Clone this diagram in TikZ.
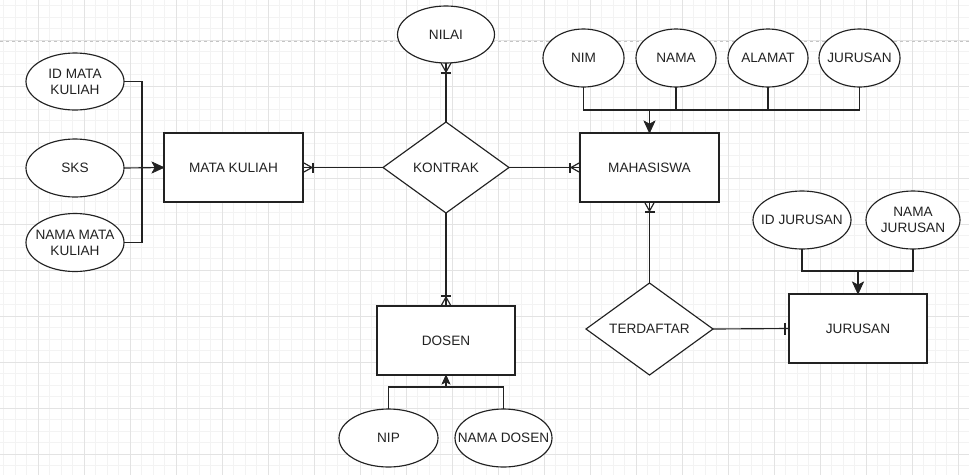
\documentclass[tikz,border=0pt]{standalone}
\usepackage{fontspec}
\setmainfont{Liberation Sans}
\usetikzlibrary{shapes.geometric}
\definecolor{gmin}{HTML}{F3F3F3}
\definecolor{gmaj}{HTML}{E3E3E3}
\definecolor{pgline}{HTML}{C4C4C4}
\definecolor{ink}{HTML}{222222}
\begin{document}
\begin{tikzpicture}[x=1pt,y=-1pt,
  every node/.style={font=\fontsize{13.6}{16}\selectfont, text=ink},
  ent/.style={draw=ink, fill=white, line width=1.15pt, rectangle, minimum width=139pt, minimum height=69pt, inner sep=0pt, outer sep=0pt},
  attr/.style={draw=ink, fill=white, line width=1.15pt, ellipse, inner sep=0pt, outer sep=0pt, minimum height=58pt},
  rel/.style={draw=ink, fill=white, line width=1.15pt, diamond, inner sep=0pt, outer sep=0pt},
  lbl/.style={align=center},
  conn/.style={draw=ink, line width=1.15pt},
  crow/.pic={\draw[conn] (0pt,5pt) -- (9pt,0pt) -- (0pt,-5pt); \draw[conn] (10pt,5pt) -- (10pt,-5pt);},
  onebar/.pic={\draw[conn] (4pt,6pt) -- (4pt,-6pt);},
  headbig/.pic={\filldraw[ink, line width=0.6pt, line join=miter] (0pt,0pt) -- (-12pt,5.5pt) -- (-9pt,0pt) -- (-12pt,-5.5pt) -- cycle;},
  headsmall/.pic={\filldraw[ink, line width=0.6pt, line join=miter] (0pt,0pt) -- (-9pt,4pt) -- (-7pt,0pt) -- (-9pt,-4pt) -- cycle;}
]
\useasboundingbox (0,0) rectangle (969,475);
\fill[white] (0,0) rectangle (969,475);
% grid
\begin{scope}
\clip (0,0) rectangle (969,475);
\foreach \i in {0,...,84} \draw[gmin, line width=0.8pt] ({3.5+11.5*\i},0) -- ({3.5+11.5*\i},475);
\foreach \i in {0,...,41} \draw[gmin, line width=0.8pt] (0,{5.5+11.5*\i}) -- (969,{5.5+11.5*\i});
\foreach \i in {0,...,21} \draw[gmaj, line width=0.8pt] ({-8+46*\i},0) -- ({-8+46*\i},475);
\foreach \i in {0,...,11} \draw[gmaj, line width=0.8pt] (0,{-6+46*\i}) -- (969,{-6+46*\i});
\end{scope}
\draw[pgline, dash pattern=on 3pt off 3pt, line width=0.8pt] (0,41) -- (969,41);

% entities
\node[ent] (mk) at (233.5,167.5) {MATA KULIAH};
\node[ent] (mhs) at (649.5,167.5) {MAHASISWA};
\node[ent, minimum width=138pt] (jur) at (858,328.5) {JURUSAN};
\node[ent, minimum width=138pt] (dos) at (446,340.5) {DOSEN};

% relationships
\node[rel, minimum width=126pt, minimum height=91pt, label={[lbl]center:KONTRAK}] (kontrak) at (446,167.5) {};
\node[rel, minimum width=127pt, minimum height=92pt, label={[lbl]center:TERDAFTAR}] (terd) at (649.5,329) {};

% attributes
\node[attr, minimum width=98pt, minimum height=57pt, label={[lbl]center:ID MATA\\KULIAH}] (idmk) at (75,81.5) {};
\node[attr, minimum width=98pt, label={[lbl]center:SKS}] (sks) at (75,168) {};
\node[attr, minimum width=98pt, label={[lbl]center:NAMA MATA\\KULIAH}] (nmk) at (75,242.5) {};
\node[attr, minimum width=97pt, minimum height=57pt, label={[lbl]center:NILAI}] (nilai) at (446,34.5) {};
\node[attr, minimum width=81pt, label={[lbl]center:NIM}] (nim) at (583.5,58) {};
\node[attr, minimum width=80pt, label={[lbl]center:NAMA}] (nama) at (676,58) {};
\node[attr, minimum width=80pt, label={[lbl]center:ALAMAT}] (alamat) at (768,58) {};
\node[attr, minimum width=81pt, label={[lbl]center:JURUSAN}] (jura) at (859.5,58) {};
\node[attr, minimum width=98pt, label={[lbl]center:ID JURUSAN}] (idj) at (802,220) {};
\node[attr, minimum width=94pt, label={[lbl]center:NAMA\\JURUSAN}] (nj) at (913,220) {};
\node[attr, minimum width=99pt, label={[lbl]center:NIP}] (nip) at (388.5,438) {};
\node[attr, minimum width=97pt, label={[lbl]center:NAMA DOSEN}] (nd) at (503.5,438) {};

% attribute connectors
\coordinate (lbus) at (142,168);
\draw[conn] (idmk.east) -| (lbus) |- (nmk.east);
\draw[conn] (sks.east) -- (mk.west);
\pic at (mk.west) {headbig};

\coordinate (mbus) at (649.5,110);
\draw[conn] (nim.south) |- (mbus);
\draw[conn] (nama.south) |- (mbus);
\draw[conn] (alamat.south) |- (mbus);
\draw[conn] (jura.south) |- (mbus);
\draw[conn] (mbus) -- (mhs.north);
\pic[rotate=-90] at (mhs.north) {headbig};

\coordinate (jbus) at (858,271);
\draw[conn] (idj.south) |- (jbus);
\draw[conn] (nj.south) |- (jbus);
\draw[conn] (jbus) -- (jur.north);
\pic[rotate=-90] at (jur.north) {headbig};

\coordinate (dbus) at (446,387);
\draw[conn] (nip.north) |- (dbus);
\draw[conn] (nd.north) |- (dbus);
\draw[conn] (dbus) -- (dos.south);
\pic[rotate=90] at (dos.south) {headsmall};

% relationship connectors
\draw[conn] (kontrak.west) -- (mk.east);
\pic at (mk.east) {crow};
\draw[conn] (kontrak.east) -- (mhs.west);
\pic[rotate=180] at (mhs.west) {crow};
\draw[conn] (kontrak.north) -- (nilai.south);
\pic[rotate=-90] at (nilai.south) {crow};
\draw[conn] (kontrak.south) -- (dos.north);
\pic[rotate=90] at (dos.north) {crow};
\draw[conn] (mhs.south) -- (terd.north);
\pic[rotate=-90] at (mhs.south) {crow};
\draw[conn] (terd.east) -- (jur.west);
\pic[rotate=180] at (jur.west) {onebar};
\end{tikzpicture}
\end{document}
